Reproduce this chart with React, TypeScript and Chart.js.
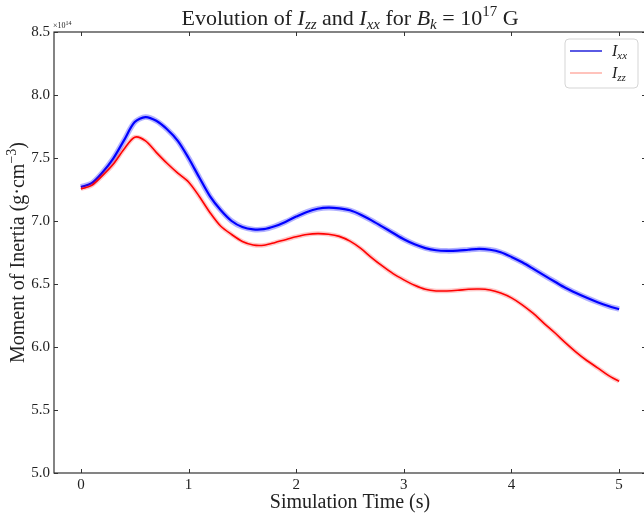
import React, { useEffect, useRef } from "react";
import { Chart, registerables } from "chart.js";

Chart.register(...registerables);

const times = [
  0.0, 0.1, 0.2, 0.3, 0.4, 0.5, 0.6, 0.7, 0.8, 0.9,
  1.0, 1.1, 1.2, 1.3, 1.4, 1.5, 1.6, 1.7, 1.8, 1.9,
  2.0, 2.1, 2.2, 2.3, 2.4, 2.5, 2.6, 2.7, 2.8, 2.9,
  3.0, 3.1, 3.2, 3.3, 3.4, 3.5, 3.6, 3.7, 3.8, 3.9,
  4.0, 4.1, 4.2, 4.3, 4.4, 4.5, 4.6, 4.7, 4.8, 4.9,
  5.0,
];

const ixx = [
  7.270, 7.300, 7.385, 7.495, 7.640, 7.785, 7.825, 7.795, 7.728, 7.636,
  7.500, 7.345, 7.195, 7.085, 7.000, 6.952, 6.933, 6.935, 6.958, 6.993,
  7.035, 7.072, 7.097, 7.106, 7.100, 7.085, 7.050, 7.005, 6.955, 6.905,
  6.855, 6.815, 6.785, 6.768, 6.763, 6.765, 6.772, 6.778, 6.772, 6.752,
  6.715, 6.672, 6.622, 6.570, 6.520, 6.470, 6.428, 6.390, 6.355, 6.325,
  6.300,
];

const izz = [
  7.255, 7.283, 7.360, 7.450, 7.570, 7.665, 7.636, 7.545, 7.458, 7.380,
  7.310, 7.195, 7.066, 6.958, 6.893, 6.838, 6.810, 6.808, 6.828, 6.852,
  6.875, 6.893, 6.900, 6.895, 6.878, 6.840, 6.782, 6.710, 6.643, 6.582,
  6.533, 6.490, 6.458, 6.445, 6.445, 6.450, 6.458, 6.460, 6.452, 6.428,
  6.390, 6.335, 6.268, 6.190, 6.115, 6.035, 5.960, 5.893, 5.835, 5.775,
  5.727,
];

const xTicks = [0, 1, 2, 3, 4, 5];
const yTicks = [5.0, 5.5, 6.0, 6.5, 7.0, 7.5, 8.0, 8.5];

const SERIF = '"Liberation Serif", "DejaVu Serif", serif';
const TEXT = "#222";

type Seg = { t: string; i?: boolean; s: number; dy?: number };

function richWidth(ctx: CanvasRenderingContext2D, segs: Seg[]) {
  let w = 0;
  for (const g of segs) {
    ctx.font = `${g.i ? "italic " : ""}${g.s}px ${SERIF}`;
    w += ctx.measureText(g.t).width;
  }
  return w;
}

function drawRich(
  ctx: CanvasRenderingContext2D,
  segs: Seg[],
  x: number,
  y: number,
  align: "center" | "left"
) {
  const total = richWidth(ctx, segs);
  let cx = align === "center" ? x - total / 2 : x;
  ctx.textAlign = "left";
  ctx.textBaseline = "alphabetic";
  for (const g of segs) {
    ctx.font = `${g.i ? "italic " : ""}${g.s}px ${SERIF}`;
    ctx.fillText(g.t, cx, y + (g.dy || 0));
    cx += ctx.measureText(g.t).width;
  }
}

const decor = {
  id: "decor",
  afterDraw(chart: any) {
    const { ctx, chartArea: a, scales } = chart;
    ctx.save();
    // frame
    ctx.strokeStyle = "#333";
    ctx.lineWidth = 1.2;
    ctx.strokeRect(a.left, a.top, a.right - a.left, a.bottom - a.top);
    // inward ticks
    const L = 4;
    ctx.lineWidth = 1;
    ctx.beginPath();
    for (const v of xTicks) {
      const px = Math.round(scales.x.getPixelForValue(v)) + 0.5;
      ctx.moveTo(px, a.bottom);
      ctx.lineTo(px, a.bottom - L);
      ctx.moveTo(px, a.top);
      ctx.lineTo(px, a.top + L);
    }
    for (const v of yTicks) {
      const py = Math.round(scales.y.getPixelForValue(v)) + 0.5;
      ctx.moveTo(a.left, py);
      ctx.lineTo(a.left + L, py);
      ctx.moveTo(a.right, py);
      ctx.lineTo(a.right - L, py);
    }
    ctx.stroke();

    ctx.fillStyle = TEXT;
    const cxAxis = (a.left + a.right) / 2;
    const cyAxis = (a.top + a.bottom) / 2;

    // title
    drawRich(
      ctx,
      [
        { t: "Evolution of ", s: 22 },
        { t: "I", i: true, s: 22 },
        { t: "zz", i: true, s: 15, dy: 4 },
        { t: " and ", s: 22 },
        { t: "I", i: true, s: 22 },
        { t: "xx", i: true, s: 15, dy: 4 },
        { t: " for ", s: 22 },
        { t: "B", i: true, s: 22 },
        { t: "k", i: true, s: 15, dy: 4 },
        { t: " = 10", s: 22 },
        { t: "17", s: 15, dy: -9 },
        { t: " G", s: 22 },
      ],
      cxAxis,
      25,
      "center"
    );

    // offset text
    drawRich(
      ctx,
      [
        { t: "×10", s: 8 },
        { t: "14", s: 6, dy: -3 },
      ],
      a.left - 1,
      a.top - 4,
      "left"
    );

    // x axis title
    drawRich(ctx, [{ t: "Simulation Time (s)", s: 20 }], cxAxis, 508, "center");

    // y axis title
    ctx.save();
    ctx.translate(24, cyAxis);
    ctx.rotate(-Math.PI / 2);
    drawRich(
      ctx,
      [
        { t: "Moment of Inertia (g·cm", s: 20 },
        { t: "−3", s: 14, dy: -8 },
        { t: ")", s: 20 },
      ],
      0,
      0,
      "center"
    );
    ctx.restore();

    // legend
    const lx = 565;
    const ly = 39;
    const lw = 73;
    const lh = 49;
    ctx.beginPath();
    ctx.roundRect(lx, ly, lw, lh, 4);
    ctx.fillStyle = "rgba(255,255,255,0.85)";
    ctx.fill();
    ctx.strokeStyle = "#d5d5d5";
    ctx.lineWidth = 1;
    ctx.stroke();

    ctx.lineWidth = 1.4;
    ctx.strokeStyle = "#1414d8";
    ctx.beginPath();
    ctx.moveTo(570, 51);
    ctx.lineTo(602, 51);
    ctx.stroke();
    ctx.strokeStyle = "rgba(255,90,70,0.45)";
    ctx.lineWidth = 1.6;
    ctx.beginPath();
    ctx.moveTo(570, 73);
    ctx.lineTo(602, 73);
    ctx.stroke();

    ctx.fillStyle = TEXT;
    drawRich(
      ctx,
      [
        { t: "I", i: true, s: 16 },
        { t: "xx", i: true, s: 11, dy: 3 },
      ],
      612,
      56,
      "left"
    );
    drawRich(
      ctx,
      [
        { t: "I", i: true, s: 16 },
        { t: "zz", i: true, s: 11, dy: 3 },
      ],
      612,
      78,
      "left"
    );
    ctx.restore();
  },
};

export default function App() {
  const ref = useRef<HTMLCanvasElement | null>(null);

  useEffect(() => {
    document.body.style.overflow = "hidden";
    const canvas = ref.current;
    if (!canvas) return;
    const pts = (vals: number[]) => times.map((t, k) => ({ x: t, y: vals[k] }));
    const chart = new Chart(canvas, {
      type: "line",
      data: {
        datasets: [
          {
            label: "Izz band",
            data: pts(izz),
            borderColor: "rgba(255,0,0,0.22)",
            borderWidth: 4.5,
            pointRadius: 0,
            tension: 0.3,
            fill: false,
          },
          {
            label: "Izz",
            data: pts(izz),
            borderColor: "#ff0000",
            borderWidth: 1.6,
            pointRadius: 0,
            tension: 0.3,
            fill: false,
          },
          {
            label: "Ixx band",
            data: pts(ixx),
            borderColor: "rgba(0,0,255,0.3)",
            borderWidth: 5.5,
            pointRadius: 0,
            tension: 0.3,
            fill: false,
          },
          {
            label: "Ixx",
            data: pts(ixx),
            borderColor: "#0000ff",
            borderWidth: 2.2,
            pointRadius: 0,
            tension: 0.3,
            fill: false,
          },
        ],
      },
      options: {
        responsive: false,
        animation: false,
        devicePixelRatio: 1,
        layout: { padding: { top: 32, right: 14, left: 0, bottom: 0 } },
        plugins: {
          legend: { display: false },
          title: { display: false },
          tooltip: { enabled: false },
        },
        scales: {
          x: {
            type: "linear",
            min: -0.25,
            max: 5.25,
            afterBuildTicks: (s: any) => {
              s.ticks = xTicks.map((v) => ({ value: v }));
            },
            afterFit: (s: any) => {
              s.height = 43;
            },
            grid: { display: false, drawTicks: false },
            border: { display: false },
            ticks: {
              padding: 3,
              color: TEXT,
              font: { family: SERIF, size: 15 },
              maxRotation: 0,
              callback: (v: any) => String(v),
            },
          },
          y: {
            type: "linear",
            min: 5.0,
            max: 8.5,
            afterBuildTicks: (s: any) => {
              s.ticks = yTicks.map((v) => ({ value: v }));
            },
            afterFit: (s: any) => {
              s.width = 54;
            },
            grid: { display: false, drawTicks: false },
            border: { display: false },
            ticks: {
              padding: 4,
              color: TEXT,
              font: { family: SERIF, size: 15 },
              callback: (v: any) => Number(v).toFixed(1),
            },
          },
        },
      },
      plugins: [decor],
    });
    return () => chart.destroy();
  }, []);

  return (
    <div style={{ position: "fixed", left: 0, top: 0, width: 660, height: 516 }}>
      <canvas ref={ref} width={660} height={516} />
    </div>
  );
}
